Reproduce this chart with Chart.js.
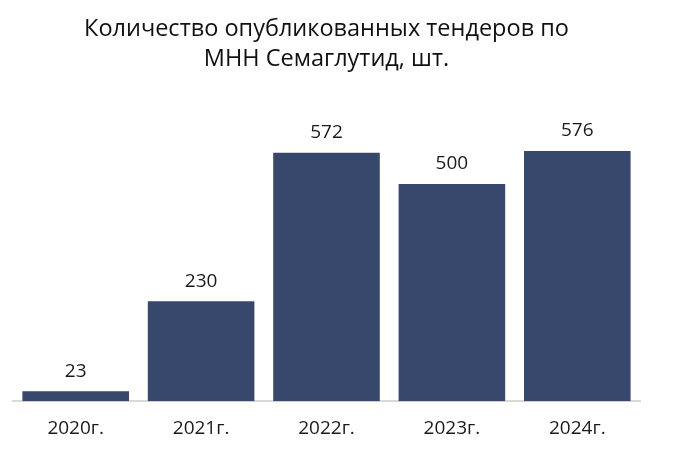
<!DOCTYPE html>
<html>
<head>
<meta charset="utf-8">
<script src="https://cdn.jsdelivr.net/npm/chart.js@4"></script>
<style>
  html, body { margin: 0; padding: 0; background: #fff; }
  #wrap { width: 678px; height: 470px; }
</style>
</head>
<body>
<div id="wrap"><canvas id="tendersChart"></canvas></div>
<script>
// Данные
const years = ['2020г.', '2021г.', '2022г.', '2023г.', '2024г.'];
const tenders = [23, 230, 572, 500, 576];
const titleLines = ['Количество опубликованных тендеров по', 'МНН Семаглутид, шт.'];

const FONT = "'Open Sans', sans-serif";

// подписи над столбцами
const valueLabels = {
    id: 'valueLabels',
    afterDatasetsDraw(chart) {
        const ctx = chart.ctx;
        const meta = chart.getDatasetMeta(0);
        ctx.save();
        ctx.font = '19px ' + FONT;
        ctx.fillStyle = '#1a1a1a';
        ctx.textAlign = 'center';
        ctx.textBaseline = 'middle';
        meta.data.forEach((bar, i) => {
            ctx.fillText(String(tenders[i]), bar.x, bar.y - 20);
        });
        ctx.restore();
    }
};

const ctx = document.getElementById('tendersChart').getContext('2d');
const tendersChart = new Chart(ctx, {
    type: 'bar',
    data: {
        labels: years,
        datasets: [{
            data: tenders,
            backgroundColor: '#38476C',
            barPercentage: 0.85,
            categoryPercentage: 1
        }]
    },
    options: {
        responsive: true,
        maintainAspectRatio: false,
        animation: false,
        layout: { padding: { top: 14, left: 13, right: 38, bottom: 22 } },
        plugins: {
            legend: { display: false },
            tooltip: { enabled: false },
            title: {
                display: true,
                text: titleLines,
                color: '#111',
                font: { family: FONT, size: 23.5, weight: 'normal', lineHeight: '30px' },
                padding: { top: 0, bottom: 23 }
            }
        },
        scales: {
            x: {
                grid: { display: false },
                border: { display: true, color: '#d9d9d9', width: 2 },
                ticks: { color: '#1a1a1a', font: { family: FONT, size: 19 }, padding: 8 }
            },
            y: {
                display: false,
                min: 0,
                max: 700
            }
        }
    },
    plugins: [valueLabels]
});
</script>
</body>
</html>
